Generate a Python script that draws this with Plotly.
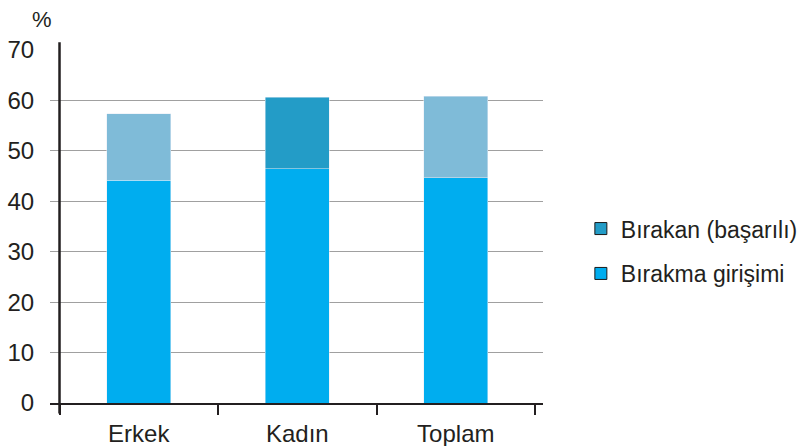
import plotly.graph_objects as go

categories = ["Erkek", "Kadın", "Toplam"]
attempt_values = [44.2, 46.5, 44.7]          # Bırakma girişimi (bottom)
quit_values = [13.2, 14.1, 16.1]             # Bırakan (başarılı) (top)
top_colors = ["#7FBBD8", "#239CC7", "#7FBBD8"]
y_ticks = [0, 10, 20, 30, 40, 50, 60, 70]

FONT = "Liberation Sans, Arial, sans-serif"
TXT = "#231F20"

fig = go.Figure()
fig.add_trace(go.Bar(x=categories, y=attempt_values, marker=dict(color="#00ADEF"),
                     showlegend=False, name="Bırakma girişimi"))
fig.add_trace(go.Bar(x=categories, y=quit_values, marker=dict(color=top_colors),
                     showlegend=False, name="Bırakan (başarılı)"))
# legend entries
fig.add_trace(go.Bar(x=[None], y=[None], name="Bırakan (başarılı)", legendgroup="a",
                     marker=dict(color="#239CC7", line=dict(color="#1A1A1A", width=1))))
fig.add_trace(go.Bar(x=[None], y=[None], name="Bırakma girişimi", legendgroup="b",
                     marker=dict(color="#00ADEF", line=dict(color="#1A1A1A", width=1))))

fig.update_layout(
    barmode="stack",
    bargap=0.595,
    width=809, height=446,
    margin=dict(l=50, r=266, t=50, b=43, autoexpand=False),
    paper_bgcolor="white", plot_bgcolor="white",
    font=dict(family=FONT, color=TXT),
    legend=dict(xref="container", yref="container", x=0.718, y=0.437,
                yanchor="middle", xanchor="left",
                font=dict(size=23, color=TXT), traceorder="grouped",
                tracegroupgap=12, itemwidth=30),
    xaxis=dict(range=[-0.56, 2.55], showgrid=False, showline=True, linecolor="#231F20",
               linewidth=2, ticks="outside", tickson="boundaries", ticklen=10,
               tickcolor="#231F20", tickwidth=1.5, tickfont=dict(size=24, color=TXT),
               ticklabelstandoff=8),
    yaxis=dict(range=[0, 70], tickvals=y_ticks, showgrid=True, gridcolor="#A0A0A0",
               gridwidth=1.3, zeroline=False, showline=False, ticks="outside", ticklen=0,
               tickfont=dict(size=24, color=TXT), ticklabelstandoff=10),
    showlegend=True,
)

# y axis spine at the first category boundary
fig.add_shape(type="line", xref="x", yref="paper", x0=-0.5, x1=-0.5, y0=-0.03, y1=1.022,
              line=dict(color="#231F20", width=2.5))
fig.add_annotation(text="%", xref="paper", yref="paper", x=-0.017, y=1.045,
                   xanchor="center", yanchor="bottom", showarrow=False,
                   font=dict(size=22, color=TXT))

fig.write_html("out.html")
